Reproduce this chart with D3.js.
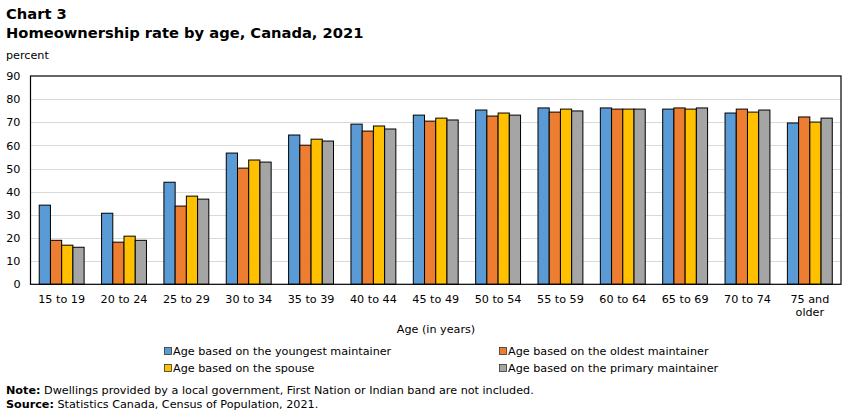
<!DOCTYPE html>
<html><head><meta charset="utf-8">
<script src="https://cdn.jsdelivr.net/npm/d3@7"></script>
<style>
body{margin:0;background:#fff;}
text{font-family:Verdana,"DejaVu Sans",sans-serif;fill:#000;}
</style></head>
<body><svg id="c" width="851" height="415"></svg>
<script>
const categories = ["15 to 19","20 to 24","25 to 29","30 to 34","35 to 39","40 to 44","45 to 49","50 to 54","55 to 59","60 to 64","65 to 69","70 to 74","75 and older"];
const seriesNames = ["Age based on the youngest maintainer","Age based on the oldest maintainer","Age based on the spouse","Age based on the primary maintainer"];
const youngest = [34.2,30.7,44.1,56.7,64.5,69.2,73.1,75.3,76.2,76.2,75.7,74.0,69.7];
const oldest   = [19.0,18.2,33.8,50.2,60.1,66.2,70.5,72.7,74.4,75.7,76.2,75.7,72.3];
const spouse   = [16.9,20.8,38.1,53.7,62.7,68.4,71.8,74.0,75.7,75.7,75.7,74.4,70.1];
const primary  = [16.0,19.0,36.8,52.8,61.9,67.1,71.0,73.1,74.9,75.7,76.2,75.3,71.8];
const yTicks = [0,10,20,30,40,50,60,70,80,90];
const colors = ["#5B9BD5","#ED7D31","#FFC000","#A5A5A5"];
const seriesValues = [youngest, oldest, spouse, primary];

const svg = d3.select("#c");
const L = 30.5, R = 841, T = 76, B = 284.3;
const FS = "11.2px";

svg.append("text").attr("x",6).attr("y",19).attr("font-weight","bold").attr("font-size","14.7px").text("Chart 3");
svg.append("text").attr("x",6).attr("y",38).attr("font-weight","bold").attr("font-size","14.7px").text("Homeownership rate by age, Canada, 2021");
svg.append("text").attr("x",6).attr("y",59).attr("font-size",FS).text("percent");

const y = d3.scaleLinear().domain([0,90]).range([B,T]);
const x0 = d3.scaleBand().domain(categories).range([L,R]).paddingInner(0.28).paddingOuter(0.14);
const x1 = d3.scaleBand().domain(d3.range(4)).range([0,x0.bandwidth()]);

// gridlines
svg.append("g").selectAll("line").data(yTicks.filter(t=>t>0 && t<90)).join("line")
  .attr("x1",L).attr("x2",R).attr("y1",d=>Math.round(y(d))+0.5).attr("y2",d=>Math.round(y(d))+0.5)
  .attr("stroke","#d9d9d9").attr("stroke-width",1);

// y axis labels
const yAxis = d3.axisLeft(y).tickValues(yTicks).tickSize(0).tickPadding(10);
const ya = svg.append("g").attr("transform",`translate(${L},0)`).call(yAxis);
ya.select(".domain").remove();
ya.selectAll("text").attr("font-size",FS).attr("font-family",'Verdana,"DejaVu Sans",sans-serif').attr("fill","#000");

// bars
const groups = svg.append("g").selectAll("g").data(categories).join("g")
  .attr("transform",d=>`translate(${x0(d)},0)`);
groups.selectAll("rect").data((d,i)=>seriesValues.map((s,k)=>({k,v:s[i]}))).join("rect")
  .attr("x",d=>x1(d.k)).attr("width",x1.bandwidth())
  .attr("y",d=>y(d.v)).attr("height",d=>B-y(d.v))
  .attr("fill",d=>colors[d.k]).attr("stroke","#000").attr("stroke-width",1);

// plot border
svg.append("rect").attr("x",L).attr("y",T).attr("width",R-L).attr("height",B-T)
  .attr("fill","none").attr("stroke","#000").attr("stroke-width",1.2);

// x axis labels
const xa = svg.append("g").attr("transform",`translate(0,${B})`).call(d3.axisBottom(x0).tickSize(0).tickFormat(""));
xa.select(".domain").remove();
const xl = svg.append("g").selectAll("text").data(categories).join("text")
  .attr("x",d=>x0(d)+x0.bandwidth()/2).attr("y",303).attr("text-anchor","middle").attr("font-size",FS);
xl.each(function(d){
  const t = d3.select(this);
  if(d==="75 and older"){
    t.append("tspan").attr("x",x0(d)+x0.bandwidth()/2).attr("dy",0).text("75 and");
    t.append("tspan").attr("x",x0(d)+x0.bandwidth()/2).attr("dy",13).text("older");
  } else t.text(d);
});
svg.append("text").attr("x",436).attr("y",333).attr("text-anchor","middle").attr("font-size",FS).text("Age (in years)");

// legend
const legPos = [[165,351],[500,351],[165,368],[500,368]];
seriesNames.forEach((n,k)=>{
  const [lx,ly]=legPos[k];
  svg.append("rect").attr("x",lx-0.5).attr("y",ly-3.5).attr("width",7).attr("height",7).attr("fill",colors[k]).attr("stroke","#333").attr("stroke-width",0.8);
  svg.append("text").attr("x",lx+8).attr("y",ly+4).attr("font-size",FS).text(n);
});

// notes
const n1 = svg.append("text").attr("x",6).attr("y",394).attr("font-size",FS);
n1.append("tspan").attr("font-weight","bold").text("Note:");
n1.append("tspan").text(" Dwellings provided by a local government, First Nation or Indian band are not included.");
const n2 = svg.append("text").attr("x",6).attr("y",408).attr("font-size",FS);
n2.append("tspan").attr("font-weight","bold").text("Source:");
n2.append("tspan").text(" Statistics Canada, Census of Population, 2021.");
</script></body></html>
